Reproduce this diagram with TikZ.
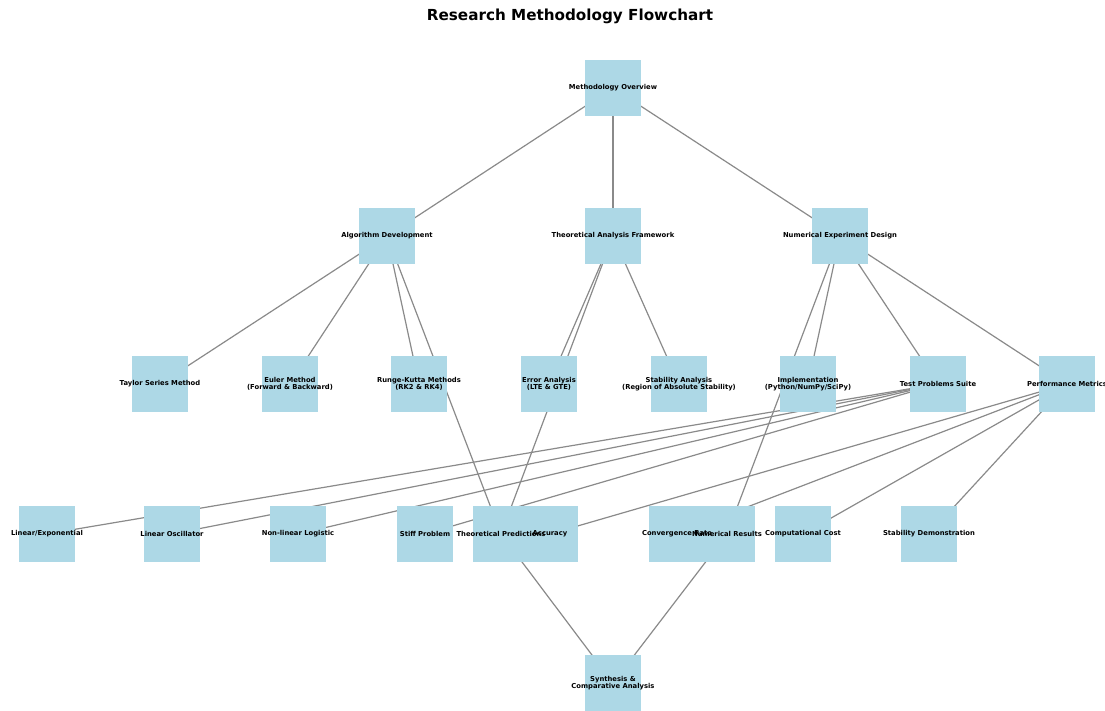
\documentclass[tikz,border=0pt]{standalone}
\usepackage{fontspec}
\setmainfont{DejaVu Sans}
\pgfdeclarelayer{background}
\pgfdeclarelayer{fg}
\pgfsetlayers{background,main,fg}
\definecolor{nodeblue}{HTML}{ADD8E6}
\definecolor{edgegray}{HTML}{8A8A8A}
\begin{document}
\begin{tikzpicture}[x=1pt,y=-1pt,
  box/.style={fill=nodeblue,minimum size=56pt,inner sep=0pt,draw=none},
  lbl/.style={font=\bfseries\fontsize{6.8}{7.6}\selectfont,align=center,inner sep=0pt,text=black},
  edge/.style={draw=edgegray,line width=1.2pt}]
\useasboundingbox (0,0) rectangle (1105,711);
\node[font=\bfseries\fontsize{15.2}{18}\selectfont] (title) at (570,16) {Research Methodology Flowchart};
% boxes
\node[box] (mo) at (613,88) {};
\node[box] (ad) at (387,236) {};
\node[box] (taf) at (613,236) {};
\node[box] (ned) at (840,236) {};
\node[box] (tsm) at (160,384) {};
\node[box] (eul) at (290,384) {};
\node[box] (rk) at (419,384) {};
\node[box] (err) at (549,384) {};
\node[box] (stab) at (679,384) {};
\node[box] (impl) at (808,384) {};
\node[box] (tps) at (938,384) {};
\node[box] (pm) at (1067,384) {};
\node[box] (le) at (47,534) {};
\node[box] (lo) at (172,534) {};
\node[box] (nll) at (298,534) {};
\node[box] (stiff) at (425,534) {};
\node[box] (tp) at (501,534) {};
\node[box] (acc) at (550,534) {};
\node[box] (conv) at (677,534) {};
\node[box] (nr) at (727,534) {};
\node[box] (cc) at (803,534) {};
\node[box] (sd) at (929,534) {};
\node[box] (syn) at (613,683) {};
% edges
\begin{pgfonlayer}{background}
\foreach \a/\b in {mo/ad,mo/taf,mo/ned,
  ad/tsm,ad/eul,ad/rk,ad/tp,
  taf/err,taf/stab,taf/tp,
  ned/impl,ned/tps,ned/pm,ned/nr,
  tps/le,tps/lo,tps/nll,tps/stiff,
  pm/acc,pm/conv,pm/cc,pm/sd,
  tp/syn,nr/syn}
  \draw[edge] (\a.center) -- (\b.center);
\end{pgfonlayer}
% labels
\begin{pgfonlayer}{fg}
\node[lbl] (mo-l) at (mo) {Methodology Overview};
\node[lbl] (ad-l) at (ad) {Algorithm Development};
\node[lbl] (taf-l) at (taf) {Theoretical Analysis Framework};
\node[lbl] (ned-l) at (ned) {Numerical Experiment Design};
\node[lbl] (tsm-l) at (tsm) {Taylor Series Method};
\node[lbl] (eul-l) at (eul) {Euler Method\\(Forward \& Backward)};
\node[lbl] (rk-l) at (rk) {Runge-Kutta Methods\\(RK2 \& RK4)};
\node[lbl] (err-l) at (err) {Error Analysis\\(LTE \& GTE)};
\node[lbl] (stab-l) at (stab) {Stability Analysis\\(Region of Absolute Stability)};
\node[lbl] (impl-l) at (impl) {Implementation\\(Python/NumPy/SciPy)};
\node[lbl] (tps-l) at (tps) {Test Problems Suite};
\node[lbl] (pm-l) at (pm) {Performance Metrics};
\node[lbl] (le-l) at (le) {Linear/Exponential};
\node[lbl] (lo-l) at (lo) {Linear Oscillator};
\node[lbl] (nll-l) at (nll) {Non-linear Logistic};
\node[lbl] (stiff-l) at (stiff) {Stiff Problem};
\node[lbl] (tp-l) at (tp) {Theoretical Predictions};
\node[lbl] (acc-l) at (acc) {Accuracy};
\node[lbl] (conv-l) at (conv) {Convergence Rate};
\node[lbl] (nr-l) at (nr) {Numerical Results};
\node[lbl] (cc-l) at (cc) {Computational Cost};
\node[lbl] (sd-l) at (sd) {Stability Demonstration};
\node[lbl] (syn-l) at (syn) {Synthesis \&\\Comparative Analysis};
\end{pgfonlayer}
\end{tikzpicture}
\end{document}
